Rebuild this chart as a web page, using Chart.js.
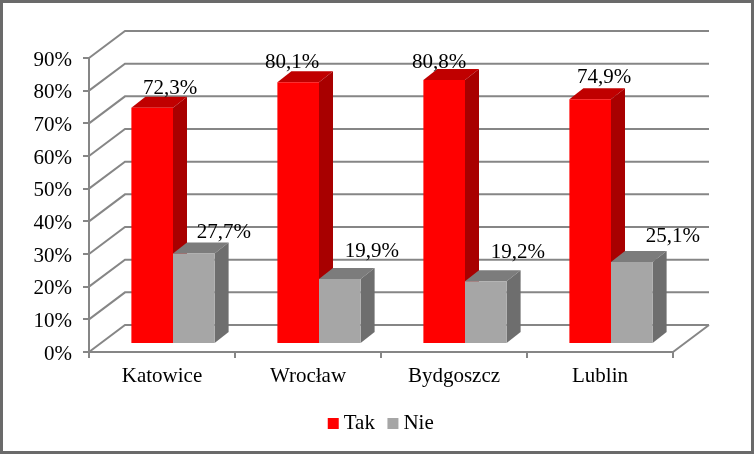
<!DOCTYPE html>
<html>
<head>
<meta charset="utf-8">
<style>
  html, body { margin: 0; padding: 0; background: #fff; }
  #wrap { width: 754px; height: 454px; }
</style>
<script src="https://cdn.jsdelivr.net/npm/chart.js@4"></script>
</head>
<body>
<div id="wrap"><canvas id="chart"></canvas></div>
<script>
const cities = ['Katowice', 'Wrocław', 'Bydgoszcz', 'Lublin'];
const tak = [72.3, 80.1, 80.8, 74.9];
const nie = [27.7, 19.9, 19.2, 25.1];

// the label placement in the picture is hand-nudged, per bar [dx, dy]
const takNudge = [[18, -19], [-6, -20], [-5, -18], [14, -22]];
const nieNudge = [[30, -21], [32, -28], [32, -29], [41, -26]];

const FONT = '"Liberation Serif", "Times New Roman", serif';
const GRID = '#868686';
const WALL = { dx: 36, dy: -27 };    // depth of the whole box
const BAR = { dx: 11, dy: -8 };      // where bars stand on the floor
const BAR_DEPTH = { dx: 14, dy: -11 };
const LEGEND_SHIFT = 47;             // legend sits right of the plot centre

const pct = (v) => v.toFixed(1).replace('.', ',') + '%';

const box3d = {
  id: 'box3d',
  afterLayout(chart) {
    chart.legend.left += LEGEND_SHIFT;
    chart.legend.right += LEGEND_SHIFT;
  },
  beforeDraw(chart) {
    const { ctx, width, height } = chart;
    ctx.save();
    ctx.fillStyle = '#fff';
    ctx.fillRect(0, 0, width, height);
    ctx.strokeStyle = '#6a6a6a';
    ctx.lineWidth = 3;
    ctx.strokeRect(1.5, 1.5, width - 3, height - 3);
    ctx.restore();
  },
  beforeDatasetsDraw(chart) {
    const { ctx } = chart;
    const { x, y } = chart.scales;
    ctx.save();
    ctx.strokeStyle = GRID;
    ctx.lineWidth = 2;
    ctx.beginPath();
    y.ticks.forEach((t) => {
      const py = y.getPixelForValue(t.value);
      ctx.moveTo(x.left, py);
      ctx.lineTo(x.left + WALL.dx, py + WALL.dy);
      ctx.lineTo(x.right + WALL.dx, py + WALL.dy);
    });
    ctx.moveTo(x.right, y.bottom);
    ctx.lineTo(x.right + WALL.dx, y.bottom + WALL.dy);
    ctx.stroke();

    // tops and sides go under all the fronts, red first so grey covers its side
    ctx.translate(BAR.dx, BAR.dy);
    chart.data.datasets.forEach((ds, i) => {
      chart.getDatasetMeta(i).data.forEach((bar) => {
        const left = bar.x - bar.width / 2;
        const right = bar.x + bar.width / 2;
        ctx.fillStyle = ds.topColor;
        ctx.beginPath();
        ctx.moveTo(left, bar.y);
        ctx.lineTo(left + BAR_DEPTH.dx, bar.y + BAR_DEPTH.dy);
        ctx.lineTo(right + BAR_DEPTH.dx, bar.y + BAR_DEPTH.dy);
        ctx.lineTo(right, bar.y);
        ctx.closePath();
        ctx.fill();
        ctx.fillStyle = ds.sideColor;
        ctx.beginPath();
        ctx.moveTo(right, bar.y);
        ctx.lineTo(right + BAR_DEPTH.dx, bar.y + BAR_DEPTH.dy);
        ctx.lineTo(right + BAR_DEPTH.dx, bar.base + BAR_DEPTH.dy);
        ctx.lineTo(right, bar.base);
        ctx.closePath();
        ctx.fill();
      });
    });
    ctx.restore();
  },
  beforeDatasetDraw(chart) {
    chart.ctx.save();
    chart.ctx.translate(BAR.dx, BAR.dy);
  },
  afterDatasetDraw(chart) {
    chart.ctx.restore();
  },
  afterDatasetsDraw(chart) {
    const { ctx } = chart;
    ctx.save();
    ctx.font = '21px ' + FONT;
    ctx.fillStyle = '#000';
    ctx.textAlign = 'center';
    ctx.textBaseline = 'middle';
    chart.data.datasets.forEach((ds, i) => {
      chart.getDatasetMeta(i).data.forEach((bar, j) => {
        const [nx, ny] = ds.nudge[j];
        ctx.fillText(pct(ds.data[j]), bar.x + BAR.dx + nx, bar.y + BAR.dy + ny);
      });
    });
    ctx.restore();
  },
};

new Chart(document.getElementById('chart'), {
  type: 'bar',
  data: {
    labels: cities,
    datasets: [
      { label: 'Tak', data: tak, backgroundColor: '#ff0000', topColor: '#c00000', sideColor: '#a80000', nudge: takNudge },
      { label: 'Nie', data: nie, backgroundColor: '#a6a6a6', topColor: '#7c7c7c', sideColor: '#6e6e6e', nudge: nieNudge },
    ],
  },
  options: {
    responsive: true,
    maintainAspectRatio: false,
    animation: false,
    devicePixelRatio: 1,
    layout: { padding: { left: 0, right: 81, top: 58, bottom: 10 } },
    datasets: { bar: { categoryPercentage: 0.57, barPercentage: 1 } },
    plugins: {
      tooltip: { enabled: false },
      legend: {
        position: 'bottom',
        labels: {
          usePointStyle: true,
          pointStyle: 'rect',
          boxWidth: 0.01,
          boxHeight: 11,
          padding: 18,
          color: '#000',
          font: { family: FONT, size: 21 },
        },
      },
    },
    scales: {
      x: {
        afterFit(scale) { scale.height = 43; },
        grid: { drawOnChartArea: false, color: GRID, tickLength: 6, lineWidth: 2 },
        border: { color: GRID, width: 2 },
        ticks: { color: '#000', font: { family: FONT, size: 21 }, padding: 6, maxRotation: 0 },
      },
      y: {
        min: 0,
        max: 90,
        afterFit(scale) { scale.width = 89; },
        grid: { drawOnChartArea: false, color: GRID, tickLength: 6, lineWidth: 2 },
        border: { color: GRID, width: 2 },
        ticks: { stepSize: 10, color: '#000', font: { family: FONT, size: 21 }, padding: 11, labelOffset: 2, callback: (v) => v + '%' },
      },
    },
  },
  plugins: [box3d],
});
</script>
</body>
</html>
